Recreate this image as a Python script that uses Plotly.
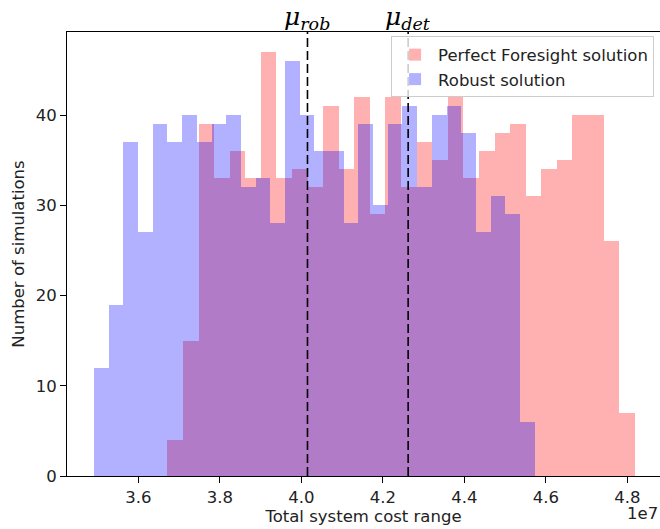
import numpy as np
import plotly.graph_objects as go

# ---- data ----
n_bins = 30
pf_label = "Perfect Foresight solution"
rob_label = "Robust solution"
pf_counts = [4, 15, 39, 33, 36, 33, 47, 33, 34, 32, 41, 34, 42, 29, 42,
             32, 37, 35, 42, 33, 36, 38, 39, 31, 34, 35, 40, 40, 26, 7]
rob_counts = [12, 19, 37, 27, 39, 37, 40, 37, 39, 40, 32, 33, 28, 46, 40,
              36, 36, 28, 39, 30, 39, 41, 32, 40, 41, 38, 27, 31, 29, 6]
pf_min, pf_max = 3.6711, 4.8181      # x 1e7
rob_min, rob_max = 3.4912, 4.5725    # x 1e7
mu_rob = 4.015
mu_det = 4.262
x_ticks = [3.6, 3.8, 4.0, 4.2, 4.4, 4.6, 4.8]
y_ticks = [0, 10, 20, 30, 40]

pf_edges = np.linspace(pf_min, pf_max, n_bins + 1)
rob_edges = np.linspace(rob_min, rob_max, n_bins + 1)

FONT = "DejaVu Sans"
FS = 16.5

fig = go.Figure()
fig.add_trace(go.Bar(
    x=(pf_edges[:-1] + pf_edges[1:]) / 2, y=pf_counts,
    width=pf_edges[1] - pf_edges[0], name=pf_label,
    marker=dict(color="red", line=dict(width=0)), opacity=0.3))
fig.add_trace(go.Bar(
    x=(rob_edges[:-1] + rob_edges[1:]) / 2, y=rob_counts,
    width=rob_edges[1] - rob_edges[0], name=rob_label,
    marker=dict(color="blue", line=dict(width=0)), opacity=0.3))

for m in (mu_rob, mu_det):
    fig.add_shape(type="line", xref="x", yref="paper", x0=m, x1=m, y0=0, y1=1,
                  line=dict(color="black", width=1.6, dash="9px,4px"))

for m, sub in ((mu_rob, "rob"), (mu_det, "det")):
    fig.add_annotation(x=m, xref="x", y=1, yref="paper", yanchor="bottom",
                       yshift=-4, showarrow=False,
                       text=f"<i>μ<sub>{sub}</sub></i>",
                       font=dict(family="DejaVu Serif", size=25, color="black"))

fig.add_annotation(x=1, xref="paper", y=-0.084, yref="paper", xanchor="right",
                   yanchor="middle", showarrow=False, text="1e7",
                   font=dict(family=FONT, size=FS, color="#222"))

fig.update_layout(
    width=660, height=529,
    margin=dict(l=67, r=0, t=32, b=53),
    plot_bgcolor="white", paper_bgcolor="white",
    barmode="overlay", bargap=0,
    font=dict(family=FONT, size=FS, color="#222"),
    legend=dict(x=0.99, xanchor="right", y=0.99, yanchor="top",
                itemwidth=36,
                bgcolor="rgba(255,255,255,0.8)", bordercolor="#cccccc",
                borderwidth=1, font=dict(family=FONT, size=FS, color="#222")),
    xaxis=dict(range=[3.4249, 4.880], tickvals=x_ticks,
               ticktext=[f"{v:.1f}" for v in x_ticks],
               ticks="outside", ticklen=6, tickcolor="black",
               showline=True, linecolor="black", linewidth=1, mirror=True,
               showgrid=False, zeroline=False,
               title=dict(text="Total system cost range", standoff=4,
                          font=dict(family=FONT, size=FS, color="#222"))),
    yaxis=dict(range=[0, 49.2], tickvals=y_ticks,
               ticks="outside", ticklen=6, tickcolor="black",
               showline=True, linecolor="black", linewidth=1, mirror=False,
               showgrid=False, zeroline=False,
               title=dict(text="Number of simulations", standoff=6,
                          font=dict(family=FONT, size=FS, color="#222"))),
)

fig.write_html("out.html")
